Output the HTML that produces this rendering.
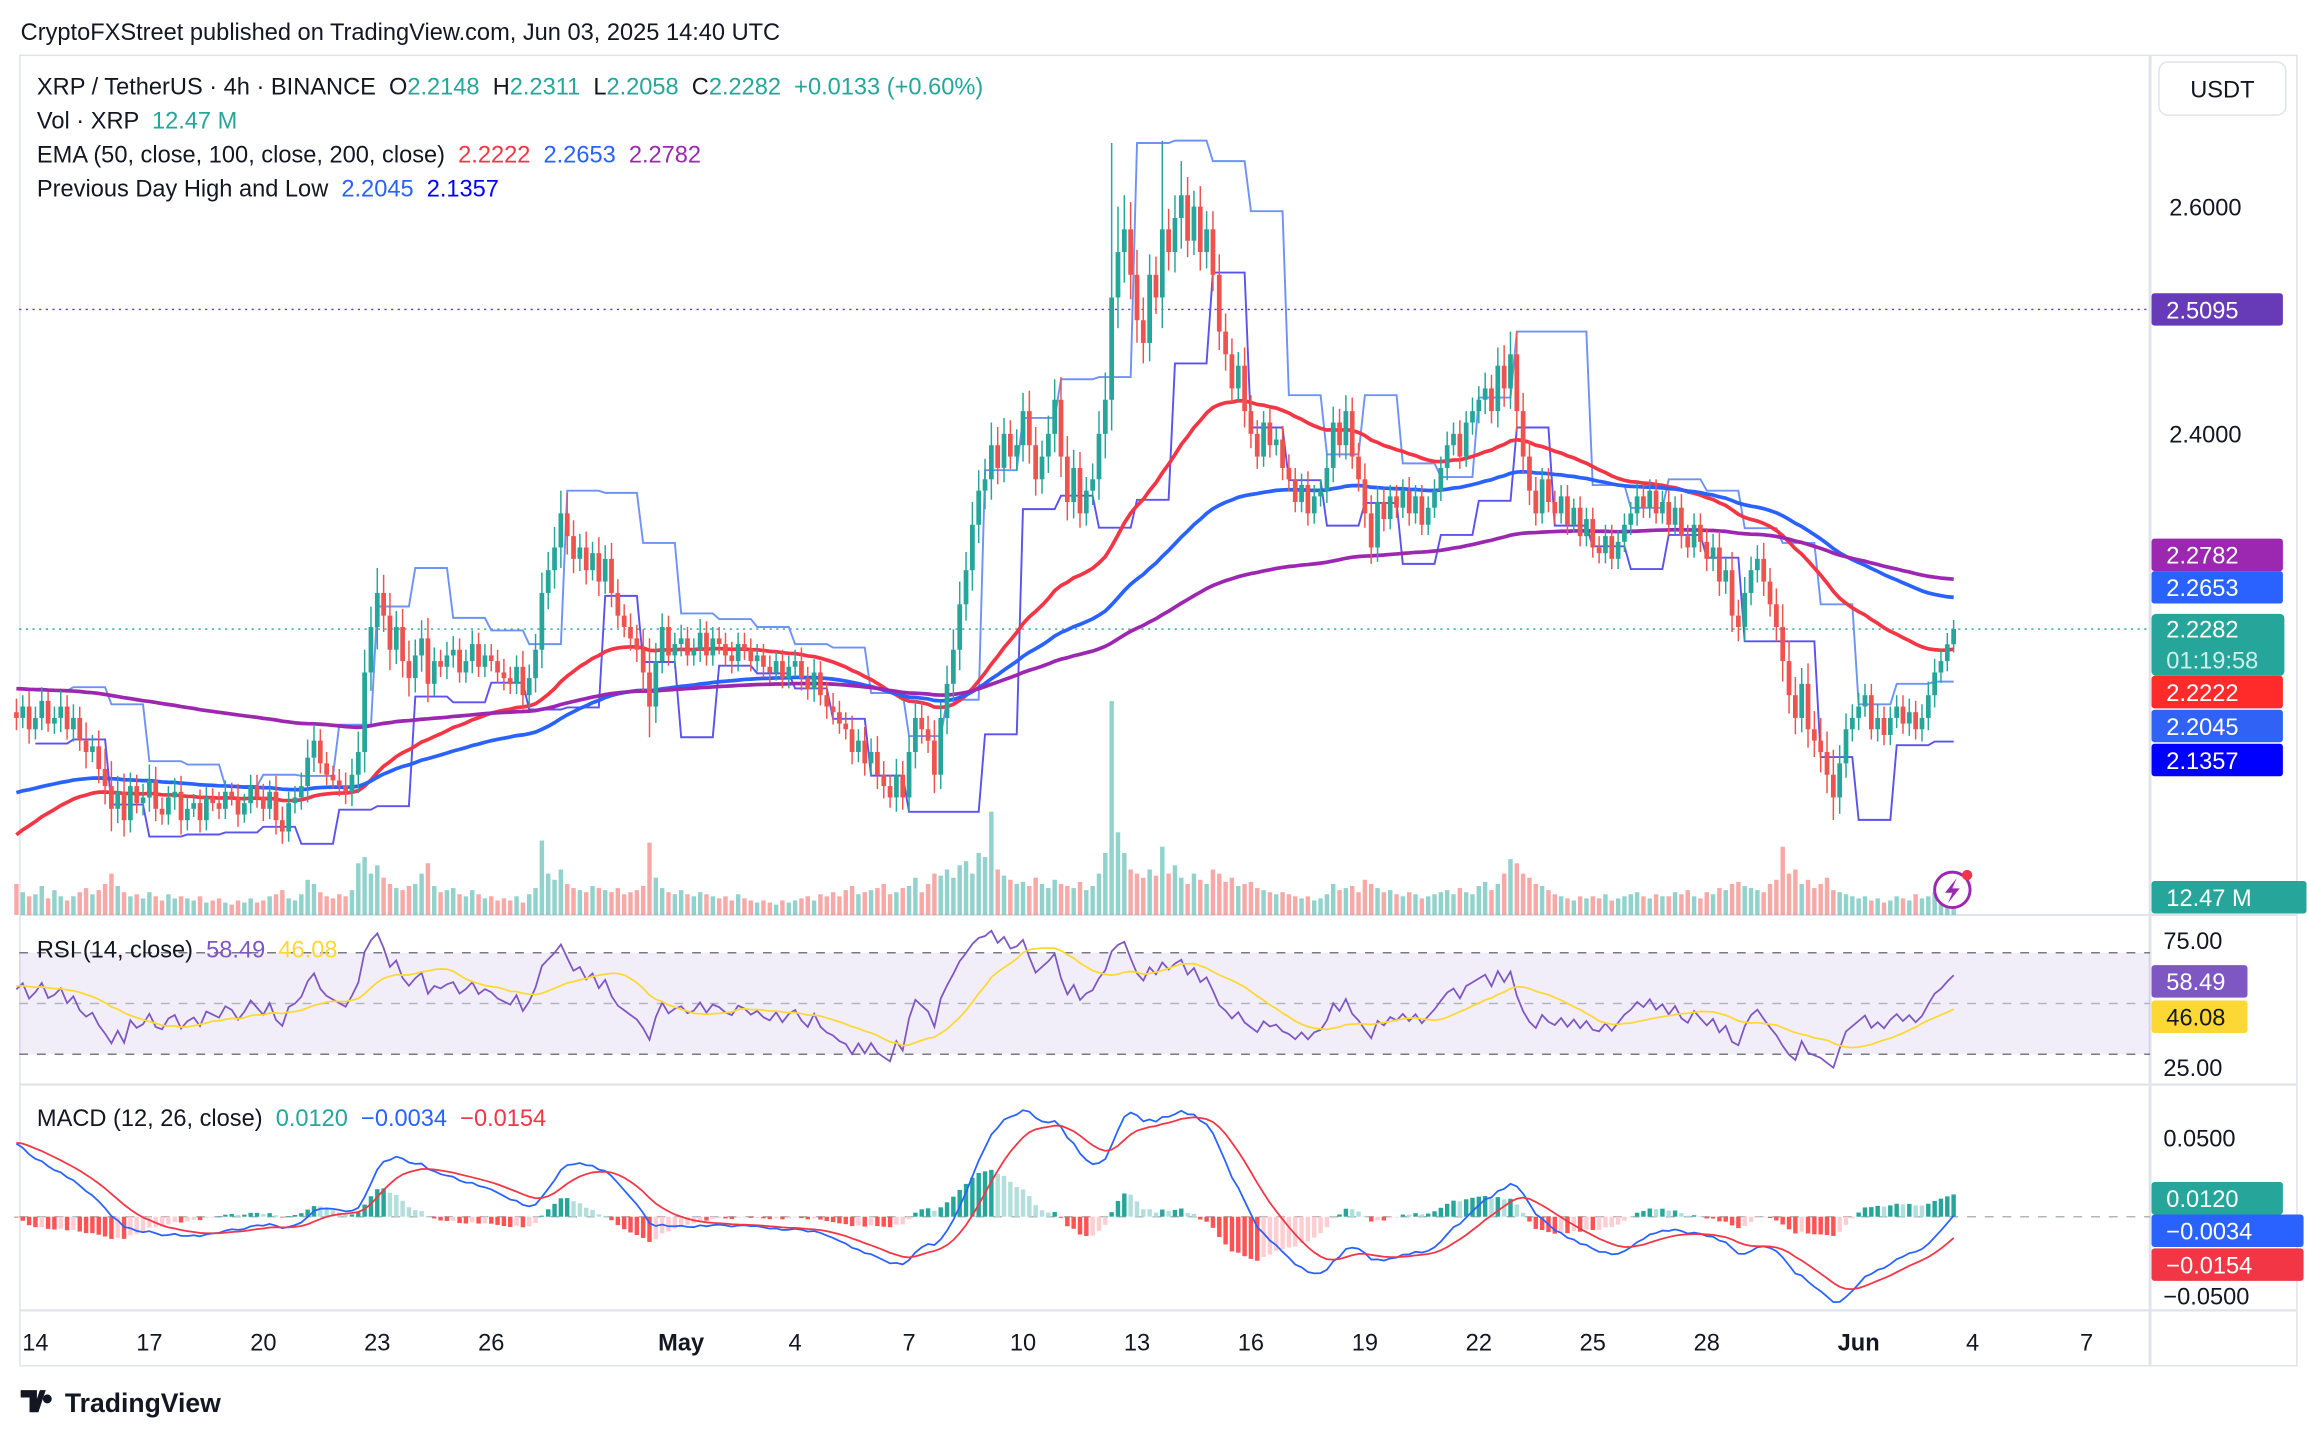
<!DOCTYPE html>
<html><head><meta charset="utf-8"><title>XRP/USDT 4h chart</title>
<style>
html,body{margin:0;padding:0;background:#fff;}
svg{display:block;font-family:"Liberation Sans",sans-serif;}
#legend text{white-space:pre;}
</style></head>
<body>
<svg id="chart" width="2308" height="1434" viewBox="0 0 1564 971.75" xmlns="http://www.w3.org/2000/svg">
<rect x="0" y="0" width="1564" height="972" fill="#ffffff"/>
<text x="14" y="27" font-size="16" fill="#131722">CryptoFXStreet published on TradingView.com, Jun 03, 2025 14:40 UTC</text>
<rect x="13.5" y="37.5" width="1543" height="888" fill="none" stroke="#e0e3eb" stroke-width="1"/>
<line x1="1457" y1="37" x2="1457" y2="925" stroke="#e0e3eb" stroke-width="2"/>
<line x1="13" y1="620" x2="1556" y2="620" stroke="#e0e3eb" stroke-width="1.5"/>
<line x1="13" y1="735" x2="1556" y2="735" stroke="#e0e3eb" stroke-width="1.5"/>
<line x1="13" y1="888" x2="1556" y2="888" stroke="#e0e3eb" stroke-width="1.5"/>
<g id="plot"></g>
<g id="legend" font-size="16" xml:space="preserve">
<text x="25" y="64" fill="#131722" xml:space="preserve">XRP / TetherUS · 4h · BINANCE  O<tspan fill="#26a69a">2.2148</tspan>  H<tspan fill="#26a69a">2.2311</tspan>  L<tspan fill="#26a69a">2.2058</tspan>  C<tspan fill="#26a69a">2.2282  +0.0133 (+0.60%)</tspan></text>
<text x="25" y="87" fill="#131722" xml:space="preserve">Vol · XRP  <tspan fill="#26a69a">12.47 M</tspan></text>
<text x="25" y="110" fill="#131722" xml:space="preserve">EMA (50, close, 100, close, 200, close)  <tspan fill="#f23645">2.2222</tspan>  <tspan fill="#2962ff">2.2653</tspan>  <tspan fill="#9c27b0">2.2782</tspan></text>
<text x="25" y="133" fill="#131722" xml:space="preserve">Previous Day High and Low  <tspan fill="#2962ff">2.2045</tspan>  <tspan fill="#0000ff">2.1357</tspan></text>
<text x="25" y="649" fill="#131722" xml:space="preserve">RSI (14, close)  <tspan fill="#7e57c2">58.49</tspan>  <tspan fill="#fdd835">46.08</tspan></text>
<text x="25" y="763" fill="#131722" xml:space="preserve">MACD (12, 26, close)  <tspan fill="#26a69a">0.0120</tspan>  <tspan fill="#2962ff">−0.0034</tspan>  <tspan fill="#f23645">−0.0154</tspan></text>
</g>
<g>
<rect x="1463" y="42" width="86" height="36" rx="6" fill="#fff" stroke="#e0e3eb"/>
<text x="1506" y="66" font-size="16" text-anchor="middle" fill="#131722">USDT</text>
</g>
<g id="axis" font-size="16" fill="#131722"></g>
<g>
<path d="M14 942 h11 v15 h-5 v-10 h-6 z M27 942 h4 l-5 15 h-4 z M32 945 a3 3 0 1 0 0.1 0 z" fill="#131722"/>
<text x="44" y="957" font-size="18" font-weight="bold" fill="#131722">TradingView</text>
</g>
<g>
<circle cx="1323" cy="603" r="12" fill="#fff" stroke="#9c27b0" stroke-width="2"/>
<path d="M1326 595 l-8 10 h5 l-3 7 l8 -10 h-5 z" fill="#9c27b0"/>
<circle cx="1333" cy="593" r="3.5" fill="#f23645"/>
</g>
</svg>
<script>
const closes = [
2.150,2.160,2.140,
2.150,2.165,2.145,2.150,2.160,2.140,
2.150,2.130,2.120,2.125,2.105,2.090,
2.070,2.085,2.060,2.090,2.075,2.080,
2.095,2.070,2.065,2.080,2.085,2.060,
2.070,2.075,2.060,2.080,2.075,2.070,
2.085,2.080,2.065,2.075,2.090,2.080,
2.070,2.085,2.060,2.050,2.075,2.080,
2.090,2.115,2.130,2.110,2.100,2.095,
2.090,2.085,2.100,2.120,2.190,2.230,
2.260,2.240,2.210,2.230,2.200,2.185,
2.205,2.220,2.180,2.200,2.195,2.205,
2.210,2.190,2.200,2.215,2.195,2.205,
2.200,2.190,2.185,2.180,2.195,2.170,
2.185,2.210,2.260,2.280,2.300,2.330,
2.310,2.290,2.300,2.280,2.295,2.270,
2.290,2.260,2.240,2.230,2.220,2.210,
2.190,2.160,2.200,2.230,2.205,2.215,
2.220,2.205,2.210,2.225,2.205,2.220,
2.215,2.205,2.200,2.215,2.210,2.200,
2.205,2.195,2.190,2.200,2.185,2.195,
2.200,2.185,2.175,2.190,2.170,2.160,
2.155,2.145,2.140,2.120,2.130,2.110,
2.120,2.100,2.090,2.080,2.100,2.080,
2.120,2.150,2.140,2.130,2.100,2.150,
2.180,2.210,2.250,2.280,2.320,2.350,
2.360,2.390,2.370,2.400,2.380,2.390,
2.420,2.390,2.360,2.380,2.400,2.430,
2.380,2.340,2.370,2.330,2.350,2.360,
2.400,2.430,2.520,2.560,2.580,2.540,
2.500,2.480,2.540,2.520,2.580,2.560,
2.590,2.610,2.570,2.600,2.560,2.580,
2.540,2.490,2.470,2.440,2.460,2.420,
2.400,2.380,2.410,2.390,2.395,2.370,
2.360,2.340,2.355,2.330,2.345,2.350,
2.370,2.410,2.390,2.420,2.380,2.360,
2.330,2.300,2.340,2.325,2.345,2.335,
2.350,2.330,2.345,2.320,2.335,2.350,
2.370,2.390,2.400,2.380,2.410,2.420,
2.430,2.440,2.420,2.460,2.440,2.470,
2.420,2.380,2.350,2.330,2.360,2.340,
2.330,2.345,2.320,2.335,2.310,2.325,
2.300,2.295,2.310,2.290,2.305,2.320,
2.330,2.345,2.335,2.350,2.330,2.340,
2.320,2.335,2.310,2.300,2.320,2.305,
2.290,2.300,2.270,2.280,2.240,2.230,
2.260,2.280,2.290,2.270,2.250,2.230,
2.200,2.170,2.150,2.180,2.140,2.130,
2.120,2.100,2.080,2.110,2.140,2.150,
2.160,2.170,2.140,2.150,2.135,2.150,
2.160,2.145,2.155,2.140,2.150,2.170,
2.190,2.200,2.2148,2.2282];
const wicks = [
12,10,14,
10,12,8,10,14,10,
12,10,16,10,14,18,
22,14,16,12,10,12,
14,12,10,10,12,14,
10,8,12,10,8,10,
10,8,12,8,10,10,
12,10,14,12,10,10,
12,16,14,10,10,8,
10,12,14,18,20,18,
22,16,20,14,16,18,
14,16,18,12,10,12,
12,10,10,12,10,10,
10,10,12,10,10,14,
12,14,18,16,18,20,
18,14,12,14,10,14,
12,14,12,10,12,12,
18,30,16,12,10,10,
12,10,10,12,10,10,
10,10,12,10,10,10,
10,10,10,8,10,10,
10,12,10,12,10,12,
12,10,10,12,10,12,
12,14,12,10,14,12,
14,16,14,12,18,14,
16,18,20,16,20,18,
18,20,16,14,12,14,
16,18,16,14,16,18,
20,18,16,14,12,14,
20,24,136,40,30,24,
22,20,18,16,78,18,
20,30,16,14,18,16,
16,18,16,14,12,16,
14,12,10,12,10,12,
12,10,10,12,10,10,
12,14,12,14,12,12,
14,16,14,12,10,10,
10,12,10,10,10,10,
10,12,10,12,10,12,
12,14,12,16,18,20,
20,16,14,12,10,10,
10,10,10,8,10,10,
10,10,10,10,10,10,
10,12,10,10,10,10,
10,10,12,10,10,10,
12,12,14,12,16,14,
14,12,12,14,12,14,
20,18,16,14,18,16,
20,18,22,16,14,12,
12,10,10,12,10,10,
10,10,12,10,12,12,
12,10,10,8];
const volumes = [
30,22,18,
20,28,16,24,18,14,
18,22,26,20,24,30,
40,28,22,18,20,16,
22,18,14,20,16,18,
16,14,18,12,14,16,
12,10,14,12,16,12,
14,18,20,24,16,14,
20,34,30,22,18,16,
20,18,24,50,56,40,
48,36,30,26,24,28,
30,40,50,28,22,24,
26,20,18,24,20,16,
18,14,16,14,18,12,
20,26,72,40,34,44,
30,26,24,22,28,26,
24,22,26,20,22,24,
28,70,36,26,22,20,
24,20,18,22,20,18,
16,18,14,20,16,14,
12,14,12,10,14,12,
14,16,18,14,20,18,
22,18,24,28,20,22,
24,26,30,20,22,26,
28,36,22,30,40,38,
44,36,48,52,40,60,
56,100,44,38,34,30,
32,28,36,30,26,34,
30,28,26,32,24,28,
40,60,207,80,60,44,
40,36,44,38,66,40,
48,36,30,40,34,30,
44,40,32,36,28,30,
32,26,24,22,20,22,
20,18,16,18,14,16,
20,30,24,26,28,22,
34,30,26,22,24,20,
18,22,20,16,18,20,
22,24,20,26,22,20,
28,32,24,30,40,54,
50,40,36,30,28,24,
20,18,16,14,18,16,
18,16,20,14,16,18,
20,22,18,16,20,18,
18,22,20,24,18,16,
22,20,26,24,30,32,
28,26,24,22,30,34,
66,40,44,30,34,26,
30,36,24,22,20,18,
16,18,14,16,12,14,
18,16,14,20,16,18,
22,26,20,12.47];
const emaSeeds = [2.043, 2.083, 2.176];
const macdSeeds = [2.150, 2.100, 0.047];
const rsiSeeds = [0.0075, 0.0060, 57];
const priceTicks = ["2.6000","2.4000"];
const priceTickValues = [2.6, 2.4];
const timeLabels = ["14","17","20","23","26","May","4","7","10","13","16","19","22","25","28","Jun","4","7"];
const timeLabelDays = [0,3,6,9,12,17,20,23,26,29,32,35,38,41,44,48,51,54];

const NS = "http://www.w3.org/2000/svg";
const plot = document.getElementById('plot');
const axis = document.getElementById('axis');
function mk(tag, attrs, parent){const e=document.createElementNS(NS,tag);for(const k in attrs)e.setAttribute(k,attrs[k]);(parent||plot).appendChild(e);return e;}
const xOf = i => 24 + (i-3)*4.29;
const xDay = d => 24 + d*25.74;
const yP = p => 140 + (2.6-p)*770;
const yR = r => 680 - (r-50)*1.72;
const yM = m => 824.5 - m*1070;
const yV = v => 620 - v*0.7;
const N = closes.length;

const opens=[],highs=[],lows=[];
for(let i=0;i<N;i++){const o=i?closes[i-1]:closes[0]+0.005;opens.push(o);const w=wicks[i]/1000;highs.push(Math.max(o,closes[i])+w);lows.push(Math.min(o,closes[i])-Math.min(w,0.03)*0.9);}

const gVol = mk('g',{});


for(let i=0;i<N;i++){const up=closes[i]>=opens[i];const r=mk('rect',{x:xOf(i)-1.5,y:yV(volumes[i]),width:3,height:620-yV(volumes[i]),fill:up?'rgba(38,166,154,0.5)':'rgba(239,83,80,0.5)'},gVol);

}

const lc=mk('line',{x1:13,x2:1457,y1:yP(2.2282),y2:yP(2.2282),stroke:'#26a69a','stroke-dasharray':'1.5 3',"stroke-width":1});


const hl=mk('line',{x1:13,x2:1457,y1:yP(2.5095),y2:yP(2.5095),stroke:'#673ab7','stroke-dasharray':'1.5 3',"stroke-width":1});



const dayOf = i => Math.floor((i+3)/6);
const dayHi={},dayLo={};
for(let i=0;i<N;i++){const d=dayOf(i);dayHi[d]=Math.max(dayHi[d]??-1,highs[i]);dayLo[d]=Math.min(dayLo[d]??9,lows[i]);}
let ph='',pl='';
for(let i=0;i<N;i++){const d=dayOf(i);if(!(d-1 in dayHi))continue;const cmd=ph?'L':'M';ph+=cmd+xOf(i).toFixed(1)+' '+yP(dayHi[d-1]).toFixed(1)+' ';pl+=cmd+xOf(i).toFixed(1)+' '+yP(dayLo[d-1]).toFixed(1)+' ';}
const pdh=mk('path',{d:ph,fill:'none',stroke:'#6e93f5','stroke-width':1.3});


const pdl=mk('path',{d:pl,fill:'none',stroke:'#5b52f0','stroke-width':1.3});



function ema(arr,n,seed){const k=2/(n+1);let v=seed;return arr.map(c=>(v=v+(c-v)*k));}
const emaDefs=[[50,'#f23645','ema-50-line'],[100,'#2962ff','ema-100-line'],[200,'#9c27b0','ema-200-line']];
emaDefs.forEach((d,j)=>{const e=ema(closes,d[0],emaSeeds[j]);const p=mk('path',{d:e.map((v,i)=>(i?'L':'M')+xOf(i).toFixed(1)+' '+yP(v).toFixed(1)).join(' '),fill:'none',stroke:d[1],'stroke-width':2.5});

});

const gC=mk('g',{});


for(let i=0;i<N;i++){const up=closes[i]>=opens[i];const col=up?'#26a69a':'#ef5350';const x=xOf(i);
const g=mk('g',{},gC);


mk('line',{x1:x,x2:x,y1:yP(highs[i]),y2:yP(lows[i]),stroke:col,'stroke-width':1},g);
const t=yP(Math.max(opens[i],closes[i])),b=yP(Math.min(opens[i],closes[i]));
mk('rect',{x:x-1.6,y:t,width:3.2,height:Math.max(1,b-t),fill:col},g);}

const rsi=new Array(N).fill(null);
{let ag=rsiSeeds[0],al=rsiSeeds[1];rsi[0]=100-100/(1+ag/al);
for(let i=1;i<N;i++){const d=closes[i]-closes[i-1];ag=(ag*13+Math.max(d,0))/14;al=(al*13+Math.max(-d,0))/14;rsi[i]=100-100/(1+ag/(al||1e-9));}}
const rsiMa=rsi.map((v,i)=>{let s=0,c=0;for(let k=Math.max(0,i-13);k<=i;k++){s+=rsi[k];c++;}const pad=14-c;return (s+pad*rsiSeeds[2])/14;});
const band=mk('rect',{x:13,y:yR(70),width:1444,height:yR(30)-yR(70),fill:'rgba(126,87,194,0.1)'});


[70,50,30].forEach(v=>{const l=mk('line',{x1:13,x2:1457,y1:yR(v),y2:yR(v),stroke:v===50?'#b2b5be':'#787b86','stroke-dasharray':'6 6','stroke-width':1});

});
function pathOf(arr,yf){let s='';arr.forEach((v,i)=>{if(v==null)return;s+=(s?'L':'M')+xOf(i).toFixed(1)+' '+yf(v).toFixed(1)+' ';});return s;}
const rl=mk('path',{d:pathOf(rsi,yR),fill:'none',stroke:'#7e57c2','stroke-width':1.2});


const rm=mk('path',{d:pathOf(rsiMa,yR),fill:'none',stroke:'#fdd835','stroke-width':1.2});



const e12=ema(closes,12,macdSeeds[0]),e26=ema(closes,26,macdSeeds[1]);
const macd=e12.map((v,i)=>v-e26[i]);
const sig=ema(macd,9,macdSeeds[2]);
const hist=macd.map((v,i)=>v-sig[i]);
const zl=mk('line',{x1:13,x2:1457,y1:yM(0),y2:yM(0),stroke:'#b2b5be','stroke-dasharray':'6 6','stroke-width':1});


const gH=mk('g',{});


for(let i=0;i<N;i++){const h=hist[i],p=i?hist[i-1]:h;const col=h>=0?(h>=p?'#26a69a':'#b2dfdb'):(h<=p?'#ff5252':'#ffcdd2');const y0=yM(0),y1=yM(h);
const r=mk('rect',{x:xOf(i)-1.5,y:Math.min(y0,y1),width:3,height:Math.max(0.5,Math.abs(y1-y0)),fill:col},gH);

}
const ml=mk('path',{d:pathOf(macd,yM),fill:'none',stroke:'#2962ff','stroke-width':1.2});


const sl=mk('path',{d:pathOf(sig,yM),fill:'none',stroke:'#f23645','stroke-width':1.2});



priceTicks.forEach((t,j)=>{const e=mk('text',{x:1470,y:yP(priceTickValues[j])+6},axis);e.textContent=t;

});
[["75.00",637],["25.00",723],["0.0500",771],["−0.0500",878]].forEach(a=>{const e=mk('text',{x:1466,y:a[1]+6},axis);e.textContent=a[0];

});
timeLabels.forEach((t,j)=>{const e=mk('text',{x:xDay(timeLabelDays[j]),y:915,'text-anchor':'middle','font-weight':(t==='May'||t==='Jun')?'bold':'normal'},axis);e.textContent=t;

});
const tags=[["2.5095",yP(2.5095),'#673ab7',1547,'#fff'],["2.2782",376,'#9c27b0',1547,'#fff'],["2.2653",398,'#2962ff',1547,'#fff'],["2.2222",469,'#ff2a2a',1547,'#fff'],["2.2045",492,'#2f62f5',1547,'#fff'],["2.1357",515,'#0000ff',1547,'#fff'],["12.47 M",608,'#26a69a',1563,'#fff'],["58.49",665,'#7e57c2',1523,'#fff'],["46.08",689,'#fdd835',1523,'#131722'],["0.0120",812,'#26a69a',1547,'#fff'],["−0.0034",834,'#2962ff',1561,'#fff'],["−0.0154",857,'#f23645',1561,'#fff']];
tags.forEach(t=>{const g=mk('g',{},axis);


mk('rect',{x:1458,y:t[1]-11,width:t[3]-1458,height:22,rx:2,fill:t[2]},g);const e=mk('text',{x:1468,y:t[1]+6,fill:t[4]},g);e.textContent=t[0];});
{const g=mk('g',{},axis);


mk('rect',{x:1458,y:416,width:90,height:42,rx:3,fill:'#26a69a'},g);
const a=mk('text',{x:1468,y:432,fill:'#fff'},g);a.textContent='2.2282';
const b=mk('text',{x:1468,y:453,fill:'#d0efec'},g);b.textContent='01:19:58';}
</script>
</body></html>
